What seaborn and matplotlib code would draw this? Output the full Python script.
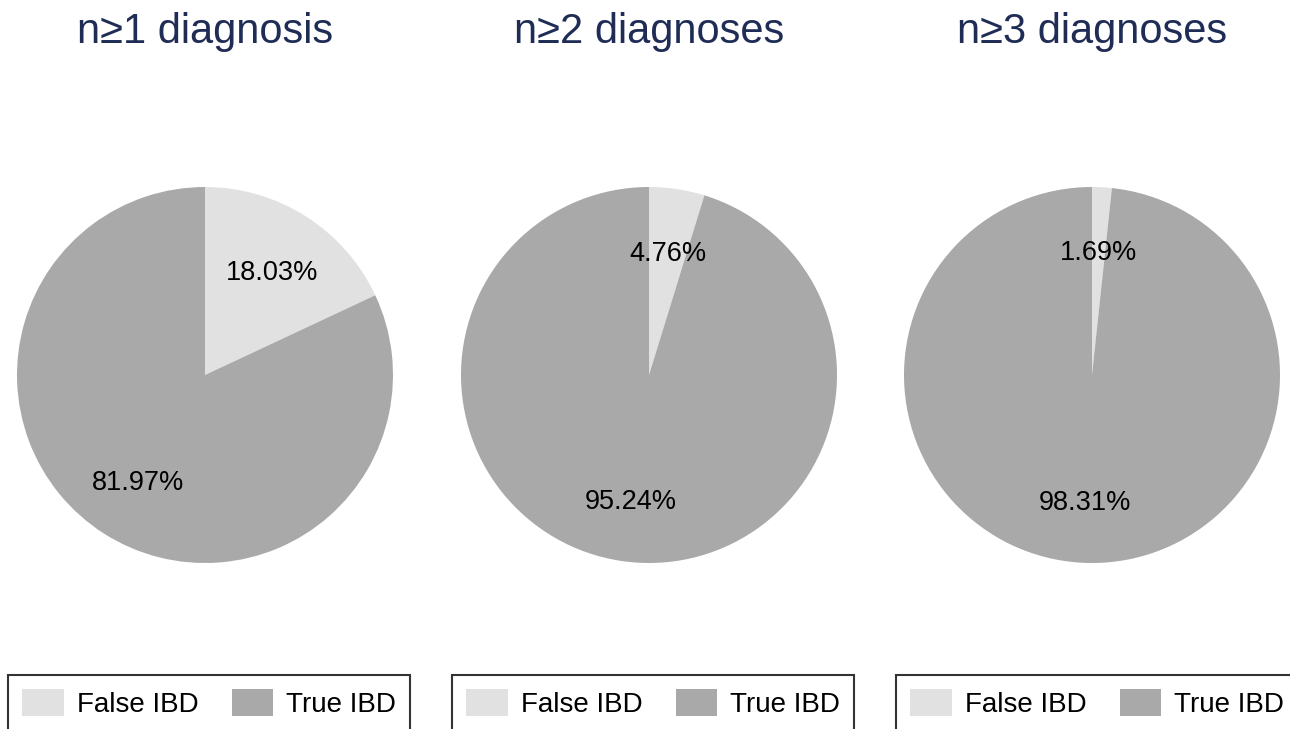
import matplotlib
matplotlib.use("Agg")
import matplotlib.pyplot as plt
import matplotlib.transforms as mtransforms
import seaborn as sns
from matplotlib.patches import Patch

sns.set_theme(style="white")
plt.rcParams['font.family'] = ['Liberation Sans', 'DejaVu Sans']

titles = ["n≥1 diagnosis", "n≥2 diagnoses", "n≥3 diagnoses"]
categories = ["False IBD", "True IBD"]
false_pct = [18.03, 4.76, 1.69]
true_pct = [81.97, 95.24, 98.31]
colors = ["#e1e1e1", "#a9a9a9"]
title_color = "#1f2d56"

W, H = 1290, 729
fig = plt.figure(figsize=(W / 100, H / 100), dpi=100)

centers_x = [205, 649, 1092]
cy = 375
r = 188
legend_left = [8, 452, 896]

for i in range(3):
    cx = centers_x[i]
    ax = fig.add_axes([(cx - r) / W, (H - cy - r) / H, 2 * r / W, 2 * r / H])
    vals = [false_pct[i], true_pct[i]]
    _, _, autotexts = ax.pie(vals, colors=colors, startangle=90, counterclock=False,
                             autopct=lambda p: f"{p:.2f}%", pctdistance=0.665,
                             textprops=dict(fontsize=19.5, color="black"),
                             wedgeprops=dict(linewidth=0))
    shift = mtransforms.ScaledTranslation(0, -3 / 100, fig.dpi_scale_trans)
    for t in autotexts:
        t.set_transform(t.get_transform() + shift)
    ax.set_xlim(-1, 1)
    ax.set_ylim(-1, 1)
    ax.set_aspect("equal")
    ax.axis("off")
    fig.text(cx / W, 1 - 43 / H, titles[i], ha="center", va="baseline",
             fontsize=30, color=title_color)
    handles = [Patch(facecolor=colors[k], edgecolor="none", label=categories[k]) for k in range(2)]
    leg = fig.legend(handles=handles, loc="upper left", ncol=2,
                     bbox_to_anchor=(legend_left[i] / W, 1 - 675 / H),
                     bbox_transform=fig.transFigure, frameon=True, fancybox=False,
                     fontsize=20, handlelength=1.5, handleheight=1.1,
                     columnspacing=1.2, handletextpad=0.47, borderpad=0.5,
                     borderaxespad=0, labelcolor="black")
    leg.get_frame().set_edgecolor("black")
    leg.get_frame().set_linewidth(1.5)

fig.savefig("out.png", dpi=100)
